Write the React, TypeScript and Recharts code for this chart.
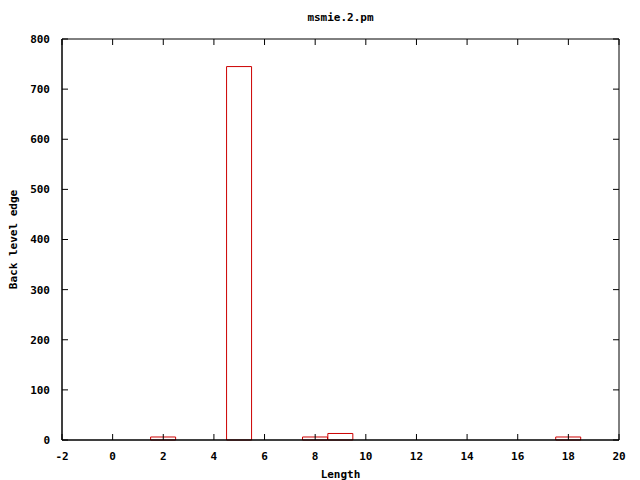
import { BarChart, Bar, XAxis, YAxis } from "recharts"

const lengths = [2, 5, 8, 9, 18]
const counts = [6, 745, 6, 13, 6]
const xTicks = [-2, 0, 2, 4, 6, 8, 10, 12, 14, 16, 18, 20]
const yTicks = [0, 100, 200, 300, 400, 500, 600, 700, 800]

const data = lengths.map((len, i) => ({ len, count: counts[i] }))

const font = { fontFamily: "'DejaVu Sans Mono', monospace", fontSize: 11, fontWeight: "bold", fill: "#000" }
const blank = () => " "

export default function App() {
  return (
    <div style={{ position: "absolute", left: 0, top: 0, width: 640, height: 480, background: "#fff" }}>
      <div
        style={{
          position: "absolute", left: 0, top: 11, width: 681, textAlign: "center",
          fontFamily: "'DejaVu Sans Mono', monospace", fontSize: 11, fontWeight: "bold",
        }}
      >
        msmie.2.pm
      </div>
      <BarChart width={640} height={480} data={data} margin={{ top: 39, right: 21, bottom: 0, left: 0 }}>
        <XAxis
          dataKey="len"
          type="number"
          domain={[-2, 20]}
          ticks={xTicks}
          allowDataOverflow
          height={40}
          stroke="#000"
          tickLine={false}
          tickMargin={6}
          tick={font}
          label={{ value: "Length", position: "insideBottom", offset: 2, style: font }}
        />
        <XAxis xAxisId="b" dataKey="len" type="number" domain={[-2, 20]} ticks={xTicks} interval={0} allowDataOverflow mirror orientation="bottom" stroke="#000" tickSize={6} tickFormatter={blank} />
        <XAxis xAxisId="t" dataKey="len" type="number" domain={[-2, 20]} ticks={xTicks} interval={0} allowDataOverflow mirror orientation="top" stroke="#000" tickSize={6} tickFormatter={blank} />
        <YAxis
          type="number"
          domain={[0, 800]}
          ticks={yTicks}
          width={62}
          stroke="#000"
          tickLine={false}
          tickMargin={6}
          tick={font}
          label={{ value: "Back level edge", angle: -90, position: "insideLeft", offset: 13, style: { ...font, textAnchor: "middle" } }}
        />
        <YAxis yAxisId="l" type="number" domain={[0, 800]} ticks={yTicks} interval={0} mirror orientation="left" stroke="#000" tickSize={6} tickFormatter={blank} />
        <YAxis yAxisId="r" type="number" domain={[0, 800]} ticks={yTicks} interval={0} mirror orientation="right" stroke="#000" tickSize={6} tickFormatter={blank} />
        <Bar xAxisId="b" yAxisId="l" dataKey="count" fill="none" stroke="none" barSize={25} isAnimationActive={false} />
        <Bar xAxisId="t" yAxisId="r" dataKey="count" fill="none" stroke="none" barSize={25} isAnimationActive={false} />
        <Bar dataKey="count" fill="none" stroke="#cc0000" strokeWidth={1} barSize={25} isAnimationActive={false} />
      </BarChart>
    </div>
  )
}
